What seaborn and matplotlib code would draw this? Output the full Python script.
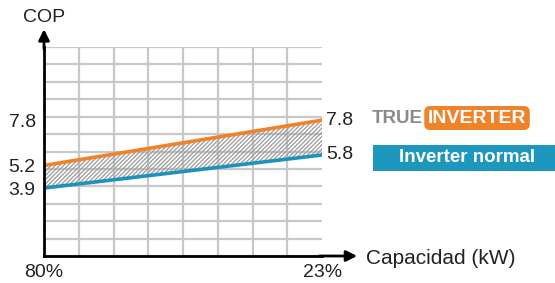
import numpy as np
import pandas as pd
import matplotlib
matplotlib.use("Agg")
import matplotlib.pyplot as plt
import seaborn as sns
from matplotlib.patches import Rectangle

# Data
capacity = [80, 23]
capacity_labels = ["80%", "23%"]
cop_true = [5.2, 7.8]
cop_normal = [3.9, 5.8]
series_names = ["TRUE INVERTER", "Inverter normal"]

sns.set_theme(style="white")
plt.rcParams['font.family'] = ['Liberation Sans', 'DejaVu Sans']
plt.rcParams['hatch.linewidth'] = 0.9

df = pd.DataFrame({
    "capacity": capacity * 2,
    "cop": cop_true + cop_normal,
    "serie": [series_names[0]] * 2 + [series_names[1]] * 2,
})

orange = "#F08228"
blue = "#1D93BC"

fig = plt.figure(figsize=(5.55, 2.83), dpi=100)
ax = fig.add_axes([0.0793, 0.0954, 0.501, 0.7385])

sns.lineplot(data=df, x="capacity", y="cop", hue="serie", palette=[orange, blue],
             lw=2.6, legend=False, ax=ax, zorder=3)
ax.fill_between(capacity, cop_normal, cop_true, facecolor="none", edgecolor="#9a9a9a",
                hatch="////////", lw=0, zorder=2)

ax.set_xlim(80, 23)
ax.set_ylim(0, 12)
ax.set_xticks(np.linspace(80, 23, 9), minor=True)
ax.set_yticks(np.arange(0, 13), minor=True)
ax.grid(which="minor", color="#c8c8c8", lw=1.6)
ax.grid(which="major", visible=False)
ax.set_xticks(capacity, capacity_labels)
ax.set_yticks([cop_true[1], cop_true[0], cop_normal[0]],
              [str(v) for v in [cop_true[1], cop_true[0], cop_normal[0]]])
ax.tick_params(which="major", direction="in", length=5, width=2, color="black",
               labelsize=14, pad=6, labelcolor="#222222")
ax.tick_params(which="minor", length=0)
ax.set_xlabel("")
ax.set_ylabel("")

for s in ["top", "right"]:
    ax.spines[s].set_visible(False)
for s in ["left", "bottom"]:
    ax.spines[s].set_color("black")
    ax.spines[s].set_linewidth(2)
    ax.spines[s].set_zorder(4)

arrow = dict(arrowstyle="-|>", color="black", lw=2, mutation_scale=16, shrinkA=0, shrinkB=0)
ax.annotate("", xy=(0, 1.085), xytext=(0, 0.99), xycoords="axes fraction",
            arrowprops=arrow, annotation_clip=False)
ax.annotate("", xy=(1.126, 0), xytext=(0.99, 0), xycoords="axes fraction",
            arrowprops=arrow, annotation_clip=False)

ax.text(0, 1.14, "COP", transform=ax.transAxes, ha="center", va="center", fontsize=14,
        color="#222222")
ax.text(1.158, -0.01, "Capacidad (kW)", transform=ax.transAxes, ha="left", va="center",
        fontsize=15, color="#222222")

# end labels on the right
for v in [cop_true[1], cop_normal[1]]:
    ax.annotate(str(v), xy=(capacity[1], v), xytext=(3, 0), textcoords="offset points",
                ha="left", va="center", fontsize=14, color="#222222", annotation_clip=False)

# legend
fig.text(372 / 555, 0.583, "TRUE", ha="left", va="center", fontsize=13.5, fontweight="bold",
         color="#8a8a8a")
fig.text(477 / 555, 0.583, "INVERTER", ha="center", va="center", fontsize=14,
         fontweight="bold", color="white",
         bbox=dict(boxstyle="round,pad=0.18,rounding_size=0.3", facecolor=orange, edgecolor="none"))
fig.patches.append(Rectangle((373 / 555, (283 - 171) / 283), (555 - 373) / 555, 26 / 283,
                             transform=fig.transFigure, facecolor="#1E97BE", edgecolor="none"))
fig.text(467 / 555, 0.442, "Inverter normal", ha="center", va="center", fontsize=13.5,
         fontweight="bold", color="white")

fig.savefig("out.png", dpi=100)
